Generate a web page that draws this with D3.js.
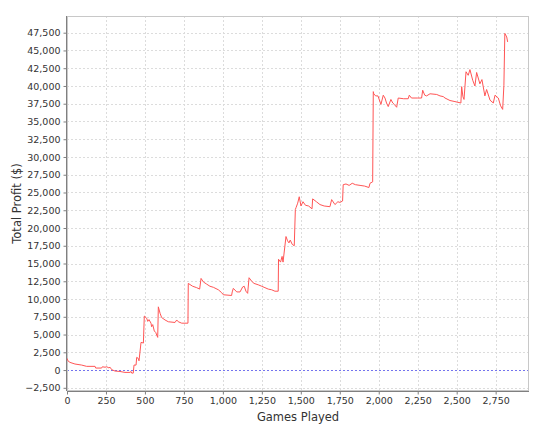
<!DOCTYPE html>
<html>
<head>
<meta charset="utf-8">
<script src="https://cdn.jsdelivr.net/npm/d3@7"></script>
<style>
  body { margin: 0; background: #fff; }
  text { font-family: "DejaVu Sans", sans-serif; }
</style>
</head>
<body>
<div id="chart"></div>
<script>
const width = 547;
const height = 430;
const margin = { top: 16, right: 18, bottom: 39, left: 67 };
const w = width - margin.left - margin.right;
const h = height - margin.top - margin.bottom;

// games played vs total profit
const games = [0, 6, 19, 51, 94, 126, 180, 184, 222, 227, 244, 255, 269, 276, 287, 308, 340, 372, 404, 411, 415, 425,
  430, 443, 447, 457, 462, 475, 490, 496, 511, 518, 526, 539, 543, 550, 560, 569, 582,
  586, 597, 607, 629, 650, 693, 704, 714, 736, 776,
  778, 806, 832, 851, 860, 875, 896, 917, 939, 971, 992, 1003, 1056, 1060, 1067, 1089, 1110, 1127, 1137, 1148, 1159,
  1168, 1185, 1200, 1227, 1249, 1270, 1291, 1313, 1334, 1355,
  1357, 1370, 1380, 1386, 1405, 1415, 1424, 1432, 1445, 1458, 1465,
  1470, 1480, 1490, 1501, 1514, 1530, 1550, 1572, 1576, 1600, 1623, 1650, 1687, 1698, 1719, 1738, 1751, 1768, 1772,
  1790, 1810, 1830, 1850, 1880, 1910, 1937, 1944, 1961, 1965,
  1968, 1980, 1995, 2014, 2029, 2040, 2050, 2061, 2078, 2090, 2100, 2115, 2125, 2160, 2189, 2196, 2210, 2250, 2275,
  2282, 2295, 2307, 2329, 2372, 2393, 2414, 2425, 2457, 2489, 2527,
  2532, 2540, 2547, 2560, 2574, 2585, 2603, 2617, 2628, 2649, 2662, 2681, 2692, 2714, 2735, 2746, 2767, 2782, 2795,
  2803, 2809, 2821, 2827];
const profit = [1650, 1300, 1080, 850, 700, 520, 520, 280, 280, 460, 400, 460, 300, 400, 50, -140, -200, -330, -330, -200, -430, -430,
  700, 700, 1780, 1650, 1300, 3900, 3800, 7600, 7300, 6850, 7100, 6600, 6100, 6400, 5500, 5300, 4600,
  8900, 8000, 7400, 7050, 6800, 6700, 7050, 6800, 6600, 6600,
  12200, 11800, 11600, 11400, 12900, 12400, 12100, 11800, 11650, 11300, 10900, 10600, 10500, 11000, 11500, 11000, 11000, 11700, 11800, 11100, 10800,
  13000, 12500, 12200, 12000, 11800, 11600, 11400, 11300, 11100, 11100,
  15600, 15200, 16000, 15200, 18800, 18200, 17900, 18300, 17700, 17500, 22600,
  22900, 23500, 24400, 23100, 23700, 23200, 23100, 22700, 24100, 23700, 23300, 23100, 23000, 24000, 23300, 23700, 23600, 23800, 26100,
  26200, 26000, 26300, 26100, 26000, 25900, 25700, 26300, 26500, 39200,
  38900, 38600, 38600, 37400, 38700, 38300, 37600, 37100, 38100, 37600, 37400, 37000, 38300, 38200, 38200, 38700, 38300, 38300, 38300,
  39400, 38700, 38600, 38900, 38800, 38600, 38500, 38300, 37950, 37800, 37600,
  39900, 38500, 38100, 42000, 41500, 42300, 40800, 40000, 41900, 40300, 40900, 38600, 39500, 38000, 37600, 38700, 38300, 37200, 36700,
  40100, 47400, 46900, 46200];

const xTicks = d3.range(0, 2751, 250);
const yTicks = d3.range(-2500, 47501, 2500);

const x = d3.scaleLinear().domain([0, 2964]).range([0, w]);
const y = d3.scaleLinear().domain([-2950, 49850]).range([h, 0]);

const svg = d3.select("#chart").append("svg")
  .attr("width", width)
  .attr("height", height);

const g = svg.append("g")
  .attr("transform", "translate(" + margin.left + "," + margin.top + ")");

g.append("rect")
  .attr("width", w)
  .attr("height", h)
  .attr("fill", "#fff");

// gridlines
g.selectAll("line.vgrid")
  .data(xTicks)
  .enter().append("line")
  .attr("class", "vgrid")
  .attr("x1", d => Math.round(x(d)) + 0.5)
  .attr("x2", d => Math.round(x(d)) + 0.5)
  .attr("y1", 0)
  .attr("y2", h)
  .attr("stroke", "#dcdcdc")
  .attr("stroke-dasharray", "2,2");

g.selectAll("line.hgrid")
  .data(yTicks)
  .enter().append("line")
  .attr("class", "hgrid")
  .attr("x1", 0)
  .attr("x2", w)
  .attr("y1", d => Math.round(y(d)) + 0.5)
  .attr("y2", d => Math.round(y(d)) + 0.5)
  .attr("stroke", "#dcdcdc")
  .attr("stroke-dasharray", "2,2");

// zero marker
g.append("line")
  .attr("x1", 0)
  .attr("x2", w)
  .attr("y1", Math.round(y(0)) + 0.5)
  .attr("y2", Math.round(y(0)) + 0.5)
  .attr("stroke", "#7474ee")
  .attr("stroke-dasharray", "2,2");

// plot border (top / right)
g.append("rect")
  .attr("x", 0.5)
  .attr("y", 0.5)
  .attr("width", w - 1)
  .attr("height", h - 1)
  .attr("fill", "none")
  .attr("stroke", "#c8c8c8");

const data = games.map((d, i) => [d, profit[i]]);
const line = d3.line()
  .x(d => x(d[0]))
  .y(d => y(d[1]));

g.append("path")
  .datum(data)
  .attr("fill", "none")
  .attr("stroke", "#ff5555")
  .attr("stroke-width", 1)
  .attr("d", line);

// axes
const fmt = d3.format(",");
const xAxis = g.append("g")
  .attr("transform", "translate(0," + (h + 0.5) + ")")
  .call(d3.axisBottom(x).tickValues(xTicks).tickFormat(fmt).tickSize(3).tickPadding(3));
const yAxis = g.append("g")
  .attr("transform", "translate(-0.5,0)")
  .call(d3.axisLeft(y).tickValues(yTicks).tickFormat(fmt).tickSize(3).tickPadding(3));

[xAxis, yAxis].forEach(a => {
  a.select(".domain").attr("stroke", "#808080");
  a.selectAll(".tick line").attr("stroke", "#808080");
  a.selectAll(".tick text")
    .attr("fill", "#333")
    .style("font-size", "9.5px")
    .style("font-family", "DejaVu Sans, sans-serif");
});
xAxis.select(".domain").attr("d", "M0,0H" + w);
yAxis.select(".domain").attr("d", "M0," + h + "V0");

svg.append("text")
  .attr("x", margin.left + w / 2)
  .attr("y", 421)
  .attr("text-anchor", "middle")
  .attr("fill", "#333")
  .style("font-size", "11.5px")
  .text("Games Played");

svg.append("text")
  .attr("transform", "translate(21," + (margin.top + h / 2) + ") rotate(-90)")
  .attr("text-anchor", "middle")
  .attr("fill", "#333")
  .style("font-size", "11.5px")
  .text("Total Profit ($)");
</script>
</body>
</html>
